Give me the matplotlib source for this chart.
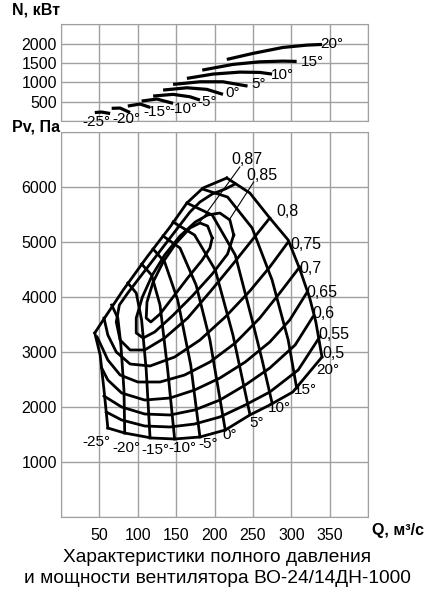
import matplotlib
matplotlib.use("Agg")
import matplotlib.pyplot as plt

plt.rcParams['font.family'] = ['Liberation Sans', 'DejaVu Sans']

# углы установки лопаток
angle_labels = ['-25°', '-20°', '-15°', '-10°', '-5°', '0°', '5°', '10°', '15°', '20°']

# мощность N, кВт (верхний график)
power_q = [
    [44, 53, 64],
    [66, 77, 90],
    [87, 103, 116],
    [105, 125, 146],
    [120, 146, 168, 181],
    [133, 164, 190, 211],
    [146, 181, 211, 243],
    [164, 198, 233, 259, 275],
    [184, 224, 259, 289, 307],
    [216, 250, 289, 320, 340],
]
power_n = [
    [219, 232, 194],
    [328, 335, 219],
    [387, 439, 353],
    [516, 568, 457],
    [645, 689, 627, 542],
    [800, 859, 818, 689],
    [947, 1014, 1014, 903],
    [1102, 1213, 1264, 1256, 1213],
    [1316, 1463, 1530, 1548, 1540],
    [1592, 1747, 1901, 1961, 1979],
]

# полное давление Pv, Па по углам
press_q = [
    [44, 51, 56, 61],
    [66, 74, 78, 82, 83],
    [87, 98, 105, 111, 116],
    [105, 118, 129, 139, 148],
    [120, 135, 152, 169, 181],
    [133, 155, 176, 194, 214],
    [146, 174, 201, 224, 246],
    [164, 197, 227, 249, 262, 275],
    [184, 217, 249, 275, 296, 307],
    [216, 246, 272, 296, 311, 324, 332, 340],
]
press_p = [
    [3340, 2940, 2303, 1612],
    [3849, 3612, 3121, 2303, 1521],
    [4249, 4067, 3576, 2667, 1431],
    [4594, 4394, 3849, 2667, 1413],
    [4867, 4631, 3940, 2758, 1449],
    [5103, 4885, 4212, 3212, 1576],
    [5358, 5121, 4485, 3303, 1867],
    [5703, 5485, 4758, 3576, 2849, 2067],
    [5958, 5812, 5249, 4303, 3212, 2339],
    [6158, 5885, 5430, 5030, 4503, 3976, 3540, 2903],
]

# граница срыва
stall_q = [44, 55, 81, 112, 142, 164, 185, 216]
stall_p = [3340, 3576, 4121, 4721, 5267, 5703, 5976, 6158]

# линии КПД
eff_labels = ['0,5', '0,55', '0,6', '0,65', '0,7', '0,75', '0,8', '0,85', '0,87']
eff_q = [
    [340, 302, 272, 246, 214, 181, 148, 118, 83, 61],
    [337, 309, 272, 240, 207, 174, 142, 109, 79, 59],
    [328, 305, 272, 240, 207, 174, 142, 109, 79, 56],
    [320, 298, 272, 240, 207, 174, 142, 109, 79, 61, 53],
    [311, 285, 259, 227, 194, 161, 129, 100, 77, 61, 52, 47],
    [296, 272, 246, 214, 181, 148, 116, 90, 72, 61, 56],
    [272, 249, 223, 194, 165, 135, 109, 90, 77, 72, 76, 87, 103, 116, 129, 142, 155, 168,
     181, 197, 214, 227],
    [225, 220, 207, 191, 175, 155, 135, 119, 106, 98, 98, 107, 122, 145, 171, 197, 217, 225],
    [197, 191, 181, 168, 150, 133, 120, 112, 111, 117, 129, 146, 165, 184, 194, 197],
]
eff_p = [
    [2903, 2267, 2031, 1849, 1576, 1449, 1413, 1431, 1521, 1612],
    [3267, 2667, 2267, 2031, 1813, 1685, 1631, 1649, 1758, 1903],
    [3631, 3121, 2703, 2394, 2121, 1940, 1849, 1867, 1994, 2194],
    [4067, 3576, 3176, 2812, 2521, 2303, 2158, 2121, 2249, 2485, 2703],
    [4540, 4067, 3612, 3158, 2812, 2576, 2449, 2449, 2576, 2849, 3121, 3267],
    [4994, 4540, 4103, 3631, 3212, 2903, 2740, 2776, 2994, 3303, 3612],
    [5430, 5030, 4576, 4085, 3612, 3249, 3031, 3031, 3212, 3540, 3849, 4067, 4358, 4594,
     4830, 5067, 5303, 5540, 5721, 5867, 5958, 6049],
    [5121, 5394, 5521, 5485, 5358, 5103, 4758, 4394, 3994, 3612, 3340, 3249, 3358, 3649,
     4012, 4412, 4776, 5121],
    [5067, 5285, 5340, 5249, 4976, 4630, 4267, 3903, 3612, 3540, 3685, 3994, 4340, 4667,
     4885, 5067],
]

LW = 2.0
GRID = '#a0a0a0'
FS = 11

fig = plt.figure(figsize=(4.34, 5.95), dpi=100)
ax_n = fig.add_axes([0.1406, 0.7966, 0.7074, 0.1626])
ax_p = fig.add_axes([0.1406, 0.1316, 0.7074, 0.6471])

for ax in (ax_n, ax_p):
    ax.set_xlim(0, 400)
    ax.set_xticks(range(0, 401, 50))
    ax.grid(True, color=GRID, lw=1)
    ax.set_axisbelow(True)
    ax.tick_params(length=0, labelsize=11.5, pad=3)
    for s in ax.spines.values():
        s.set_color(GRID)

# 1) мощность
ax_n.set_ylim(0, 2500)
ax_n.set_yticks(range(0, 2501, 500))
ax_n.set_yticklabels(['', '500', '1000', '1500', '2000', ''])
ax_n.set_xticklabels([])
for q, n in zip(power_q, power_n):
    ax_n.plot(q, n, color='black', lw=LW + 0.3, solid_capstyle='butt')
n_lab_pos = [(46, -30), (85, 52), (126, 232), (160, 310), (190, 490),
             (223, 722), (258, 955), (289, 1187), (327, 1522), (353, 1987)]
for lab, (x, y) in zip(angle_labels, n_lab_pos):
    ax_n.text(x, y, lab, ha='center', va='center', fontsize=FS, clip_on=False)

# 2) давление
ax_p.set_ylim(0, 7000)
ax_p.set_yticks(range(0, 7001, 1000))
ax_p.set_yticklabels([''] + [str(v) for v in range(1000, 7000, 1000)] + [''])
ax_p.set_xticklabels([''] + [str(v) for v in range(50, 400, 50)] + [''])
ax_p.tick_params(axis='x', pad=8)

ax_p.plot(stall_q, stall_p, color='black', lw=LW, solid_joinstyle='round')
for q, p in zip(press_q, press_p):
    ax_p.plot(q, p, color='black', lw=LW, solid_joinstyle='round')
for q, p in zip(eff_q, eff_p):
    ax_p.plot(q, p, color='black', lw=LW, solid_joinstyle='round')

p_lab_pos = [(46, 1356), (85, 1247), (123, 1213), (158, 1247), (192, 1320),
             (220, 1485), (255, 1703), (285, 1976), (318, 2303), (348, 2667)]
for lab, (x, y) in zip(angle_labels, p_lab_pos):
    ax_p.text(x, y, lab, ha='center', va='center', fontsize=FS)

eff_lab_pos = [(340, 2976), (335, 3321), (327, 3703), (320, 4085), (311, 4521),
               (299, 4940), (280, 5540), (242, 6212), (222, 6503)]
for lab, (x, y) in zip(eff_labels, eff_lab_pos):
    ax_p.text(x, y, lab, ha='left', va='center', fontsize=11.5, clip_on=False)
# выноски
ax_p.plot([233, 181], [6358, 5358], color='black', lw=0.8)
ax_p.plot([251, 219], [6085, 5394], color='black', lw=0.8)

fig.text(12 / 434, 1 - 10 / 595, 'N, кВт', fontsize=11.5, fontweight='bold', va='center')
fig.text(12 / 434, 1 - 127 / 595, 'Pv, Па', fontsize=11.5, fontweight='bold', va='center')
fig.text(372 / 434, 1 - 531 / 595, 'Q, м³/с', fontsize=11.5, fontweight='bold', va='center')
fig.text(0.5, 1 - 568 / 595,
         'Характеристики полного давления\nи мощности вентилятора ВО-24/14ДН-1000',
         ha='center', va='center', fontsize=13.8, linespacing=1.3)

fig.savefig('out.png', dpi=100)
